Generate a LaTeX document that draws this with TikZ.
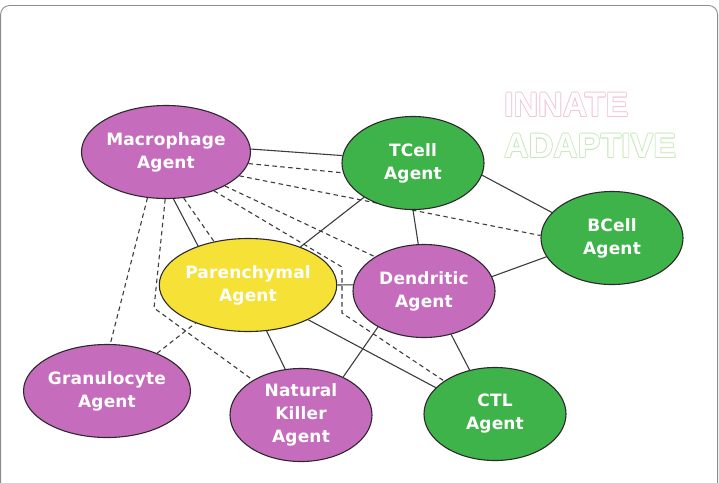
\documentclass[tikz,border=0pt]{standalone}
\usepackage{fontspec}
\setmainfont{DejaVu Sans}
\newfontfamily\agentfont[LetterSpace=1]{DejaVu Sans}
\newfontfamily\bannerfont{Liberation Sans}
\usetikzlibrary{shapes.geometric,backgrounds}

\definecolor{agentpurple}{RGB}{198,108,188}
\definecolor{agentgreen}{RGB}{62,179,74}
\definecolor{agentyellow}{RGB}{246,226,54}
\definecolor{rimdark}{RGB}{45,40,45}
\definecolor{linkgray}{RGB}{60,60,60}
\definecolor{framegray}{RGB}{140,140,140}
\definecolor{innatepink}{RGB}{242,198,214}
\definecolor{adaptivegreen}{RGB}{202,233,188}

\tikzset{
  agent/.style={ellipse, draw=rimdark, line width=1.1pt,
    minimum width=142pt, minimum height=93pt, inner sep=0pt,
    align=center, text=white,
    font=\agentfont\bfseries\fontsize{17}{23}\selectfont},
  innate/.style={agent, fill=agentpurple},
  adaptive/.style={agent, fill=agentgreen},
  tissue/.style={agent, fill=agentyellow},
  link/.style={draw=linkgray, line width=1.1pt},
  weak/.style={link, dashed, dash pattern=on 4.5pt off 3.5pt},
  banner/.style={anchor=west, inner sep=0pt,
    font=\bannerfont\bfseries\fontsize{34}{34}\selectfont}
}

\begin{document}
\begin{tikzpicture}[x=1pt, y=-1pt]
  \useasboundingbox (0,0) rectangle (719,482);
  \clip (0,0) rectangle (719,482);

  % outer frame, open past the lower edge
  \draw[framegray, line width=0.9pt, rounded corners=9pt]
    (0.6,5.5) rectangle (717.6,540);

  % hollow headings: tinted copies around a white core
  \foreach \dx/\dy in {-0.8/0,0.8/0,0/-0.8,0/0.8,-0.6/-0.6,0.6/0.6,-0.6/0.6,0.6/-0.6} {
    \node[banner, text=innatepink] at (504+\dx,105+\dy) {INNATE};
    \node[banner, text=adaptivegreen] at (504+\dx,146+\dy) {ADAPTIVE};
  }
  \node[banner, text=white] (innatehead) at (504,105) {INNATE};
  \node[banner, text=white] (adaptivehead) at (504,146) {ADAPTIVE};

  % agents
  \node[innate]   (mac)  at (166,152) {Macrophage\\Agent};
  \node[adaptive] (tc)   at (413,163) {TCell\\Agent};
  \node[adaptive] (bc)   at (612,238) {BCell\\Agent};
  \node[tissue]   (par)  at (248,285) {Parenchymal\\Agent};
  \node[innate]   (den)  at (424,291) {Dendritic\\Agent};
  \node[innate]   (gran) at (107,391) {Granulocyte\\Agent};
  \node[innate]   (nk)   at (301,415) {Natural\\Killer\\Agent};
  \node[adaptive] (ctl)  at (495,414) {CTL\\Agent};

  % bend points of the routed dashed links
  \coordinate (nkbend) at (154,308);
  \coordinate (ctlbendA) at (342,267);
  \coordinate (ctlbendB) at (342,313);

  \begin{scope}[on background layer]
    % macrophage links
    \draw[link] (mac.2) -- (tc.174);
    \draw[weak] (mac.352) -- (tc.188);
    \draw[weak] (mac.342) -- (bc.178);
    \draw[weak] (mac.330) -- (den.145);
    \draw[weak] (mac.321) -- (ctlbendA) -- (ctlbendB) -- (ctl.147);
    \draw[weak] (mac.291) -- (par.128);
    \draw[link] (mac.279) -- (par.142);
    \draw[weak] (mac.248) -- (gran.86);
    \draw[weak] (mac.269) -- (nkbend) -- (nk.144);
    % remaining links
    \draw[weak] (gran.37) -- (par.216);
    \draw[link] (par.36) -- (tc.215);
    \draw[link] (par.0) -- (den.175);
    \draw[link] (par.292) -- (nk.109);
    \draw[link] (par.330) -- (ctl.156);
    \draw[link] (tc.350) -- (bc.157);
    \draw[link] (tc.270) -- (den.97);
    \draw[link] (den.12) -- (bc.196);
    \draw[link] (den.218) -- (nk.42);
    \draw[link] (den.302) -- (ctl.120);
  \end{scope}
\end{tikzpicture}
\end{document}
